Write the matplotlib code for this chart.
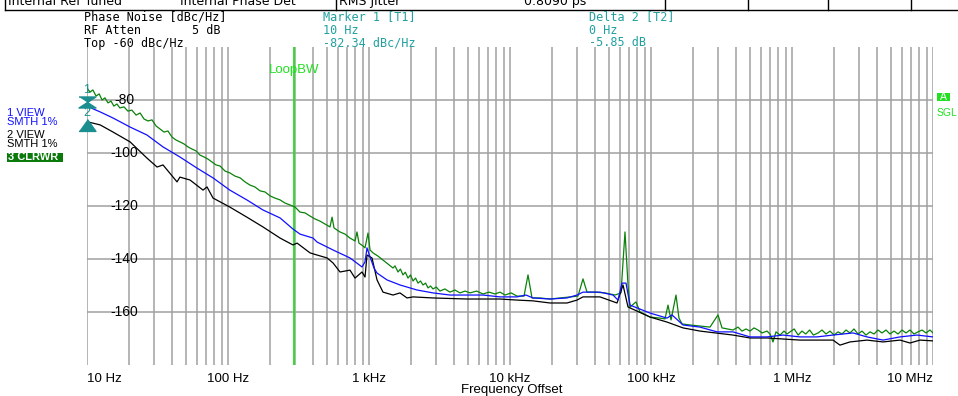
import matplotlib
matplotlib.use("Agg")
import matplotlib.pyplot as plt
from matplotlib.lines import Line2D
from matplotlib.patches import Rectangle
from matplotlib.ticker import LogLocator
from matplotlib.transforms import ScaledTranslation

# trace 3 (CLRWR, green)
green_freq = [10, 10.5, 11.0, 11.6, 12.2, 12.8, 13.4, 14.1, 14.8, 15.5, 16.3, 17.1, 18.3, 19.5,
              20.8, 22.3, 23.8, 25.4, 27.1, 28.9, 30.9, 32.9, 35.2, 37.5, 40.1, 42.8, 45.6, 48.8,
              52.0, 55.5, 59.3, 63.3, 67.6, 72.1, 77.0, 82.2, 87.8, 95.2, 103, 112, 122, 132, 143,
              155, 169, 183, 199, 215, 234, 254, 275, 299, 324, 352, 382, 414, 449, 487, 529, 547,
              565, 623, 676, 733, 796, 822, 849, 907, 937, 984, 1017, 1068, 1158, 1257, 1364, 1480,
              1529, 1606, 1670, 1742, 1810, 1891, 1970, 2052, 2140, 2226, 2320, 2415, 2520, 2621,
              2730, 2844, 3000, 3188, 3450, 3753, 4070, 4420, 4800, 5204, 5800, 6436, 7100, 7829,
              8500, 9216, 10200, 11210, 12570, 13420, 14320, 16320, 19220, 22620, 26640, 30360, 32940,
              35160, 40080, 47200, 55550, 61270, 65400, 68700, 70970, 78290, 83560, 98380, 115800,
              125700, 132000, 138700, 150400, 157900, 165900, 189100, 222600, 262100, 298700,
              318900, 381600, 414000, 441900, 471900, 503500, 537700, 574100, 612700, 664800,
              698200, 733300, 770000, 822000, 877700, 921600, 967800,
              1.036e6, 1.106e6, 1.176e6, 1.252e6, 1.333e6, 1.418e6, 1.531e6, 1.633e6, 1.742e6,
              1.860e6, 1.986e6, 2.120e6, 2.262e6, 2.415e6, 2.578e6, 2.752e6, 2.938e6, 3.137e6,
              3.348e6, 3.574e6, 3.815e6, 4.072e6, 4.347e6, 4.642e6, 4.955e6, 5.290e6, 5.647e6,
              6.029e6, 6.436e6, 6.868e6, 7.332e6, 7.828e6, 8.356e6, 8.920e6, 9.52e6, 1e7]
green_db = [-75.5, -77.0, -76.2, -78.5, -77.7, -80.0, -79.2, -81.1, -80.4, -82.3, -81.5, -83.0, -82.6, -84.2,
            -83.8, -85.7, -84.9, -87.2, -87.9, -87.5, -89.8, -90.9, -92.1, -91.7, -94.0, -95.1, -95.8, -96.6,
            -97.7, -98.5, -99.2, -100.8, -101.5, -102.3, -103.4, -104.5, -104.9, -106.8, -107.5, -108.7, -109.4, -110.9, -112.1,
            -112.8, -114.3, -114.7, -116.2, -117.0, -117.7, -118.9, -119.6, -120.4, -122.3, -122.6, -123.8, -124.9, -125.7, -126.8, -127.9, -124.2,
            -128.3, -129.8, -130.6, -132.1, -133.2, -129.8, -134.0, -135.1, -135.8, -130.2, -136.6, -137.7, -138.9, -140.4, -141.9, -143.4,
            -142.6, -144.9, -143.8, -146.0, -145.0, -147.2, -146.0, -148.3, -147.2, -149.1, -148.3, -149.8, -149.1, -150.9,
            -150.2, -151.3, -150.6, -152.1, -151.3, -152.5, -151.7, -152.8, -152.1, -152.8, -152.1, -153.2, -152.5, -153.2,
            -152.5, -153.6, -152.8, -154.0, -154.0, -146.0, -154.7, -154.7, -155.1, -154.7, -154.3, -154.0, -147.5,
            -152.5, -152.5, -152.8, -153.6, -152.8, -129.8, -149.8, -158.1, -156.2, -160.0, -161.9, -162.3,
            -162.6, -157.4, -163.0, -153.6, -162.3, -164.5, -164.9, -165.3, -165.7, -161.1,
            -166.0, -166.8, -165.7, -167.2, -166.4, -167.2, -166.0, -166.8, -167.9, -167.2,
            -168.3, -171.3, -167.5, -168.7, -167.2, -168.3, -167.5,
            -166.4, -168.7, -167.2, -168.3, -166.8, -168.7, -167.9, -166.8, -168.3,
            -167.2, -168.7, -167.5, -168.3, -166.8, -167.9, -166.4, -168.3, -167.2,
            -168.7, -167.5, -168.3, -166.8, -167.9, -166.8, -168.3, -167.2, -168.3,
            -166.8, -167.9, -166.8, -168.3, -167.5, -166.8, -167.9, -166.8, -167.9]

# trace 1 (VIEW, SMTH 1%, blue)
blue_freq = [10, 12.4, 15.3, 20.2, 26.6, 34.6, 45.6, 60.3, 78.3, 103, 136, 177, 234, 289, 324, 401,
             428, 556, 733, 892, 937, 968, 1017, 1085, 1140, 1342, 1659, 2190, 2844, 3753, 4955,
             6436, 8494, 11210, 12990, 14560, 19220, 25370, 29870, 32940, 43480, 53780, 58340,
             62270, 66480, 70970, 98380, 129900, 140900, 168700, 222600, 293900, 381600, 503500,
             664800, 863700, 1.139e6, 1.504e6, 1.953e6, 2.708e6, 3.403e6, 4.420e6, 5.834e6,
             7.700e6, 1e7]
blue_db = [-82.34, -84.5, -86.8, -90.2, -93.2, -97.7, -101.5, -105.7, -109.4, -114.0, -117.7, -121.5, -124.5, -128.7, -130.6, -132.1,
           -133.6, -136.6, -139.6, -143.0, -141.1, -135.8, -139.2, -143.4, -145.3, -147.9, -149.8, -151.7, -152.8, -153.6, -153.6,
           -153.6, -154.3, -154.3, -153.6, -154.7, -155.1, -154.7, -153.6, -152.5, -152.5, -153.6, -155.5,
           -149.1, -149.1, -157.4, -160.4, -162.3, -161.1, -164.9, -165.7, -167.5, -167.5, -169.4,
           -169.4, -168.7, -169.4, -169.4, -168.7, -167.9, -169.4, -170.6, -169.4,
           -168.7, -169.4]

# trace 2 (VIEW, SMTH 1%, black)
black_freq = [10, 12.4, 15.3, 20.2, 26.6, 31.4, 34.6, 43.5, 45.6, 53.8, 66.5, 71.0, 78.3, 103, 136,
              177, 234, 289, 309, 382, 428, 504, 556, 623, 733, 796, 892, 937, 968, 1050, 1140,
              1257, 1480, 1659, 1860, 2052, 2844, 4955, 8494, 11210, 14560, 19220, 25370, 29870,
              32940, 43480, 57410, 63310, 68700, 98380, 129900, 168700, 222600, 381600, 503500,
              664800, 1.139e6, 1.953e6, 2.189e6, 2.578e6, 3.403e6, 4.420e6, 5.834e6, 6.868e6,
              8.087e6, 1e7]
black_db = [-88.19, -89.4, -92.1, -95.8, -101.9, -105.3, -104.5, -110.9, -109.1, -110.2, -114.0, -112.8, -117.0, -120.4, -124.2,
            -127.9, -132.1, -134.7, -134.0, -137.7, -138.5, -139.6, -141.5, -144.9, -144.2, -147.2, -144.9, -146.8, -138.5, -139.6, -147.9,
            -152.5, -153.6, -152.8, -154.7, -154.3, -154.7, -155.1, -155.1, -155.5, -155.8, -156.6, -156.6, -155.5,
            -154.3, -154.3, -156.6, -149.8, -158.1, -161.9, -163.8, -166.0, -167.2, -168.7, -169.8,
            -169.8, -170.6, -170.6, -172.5, -171.3, -170.6, -171.3, -170.6, -171.7,
            -170.6, -170.9]

x_ticks = [10, 100, 1e3, 1e4, 1e5, 1e6, 1e7]
x_labels = ["10 Hz", "100 Hz", "1 kHz", "10 kHz", "100 kHz", "1 MHz", "10 MHz"]
y_ticks = [-160, -140, -120, -100, -80]
loop_bw = 295
marker1_freq = 10
marker1_level = -82.34
delta2_level = -5.85

TEAL = "#22a0a0"
TEAL_SYM = "#1b8f8f"
LIME = "#22e022"
GRID = "#a0a0a0"

W, H = 958, 396
def fx(p):
    return p / W
def fy(p):
    return 1 - p / H

plt.rcParams["font.family"] = ["Liberation Sans", "DejaVu Sans"]

fig = plt.figure(figsize=(W / 100, H / 100), dpi=100)
ax = fig.add_axes([fx(87), fy(365), 846 / W, 318 / H])

ax.plot(green_freq, green_db, color="#0a820a", lw=0.9, zorder=3)
ax.plot(black_freq, black_db, color="black", lw=0.9, zorder=4)
ax.plot(blue_freq, blue_db, color="#1010ff", lw=0.9, zorder=5)

ax.set_xscale("log")
ax.set_xlim(10, 1e7)
ax.set_ylim(-180, -60)
for s in ax.spines.values():
    s.set_visible(False)

ax.xaxis.set_minor_locator(LogLocator(base=10, subs=range(2, 10), numticks=20))
ax.set_xticks(x_ticks, labels=x_labels)
ax.set_yticks(y_ticks, labels=[""] * len(y_ticks))
ax.tick_params(which="both", length=0)
ax.tick_params(axis="x", pad=6, labelsize=9.5)
ax.grid(which="both", axis="x", color=GRID, lw=1.1, zorder=1)
ax.grid(which="major", axis="y", color=GRID, lw=1.1, zorder=1)
ax.set_axisbelow(True)
labels = ax.get_xticklabels()
labels[0].set_ha("left")
labels[-1].set_ha("right")

for v in y_ticks:
    ax.text(0.044, v, str(v), transform=ax.get_yaxis_transform(), ha="center", va="center",
            fontsize=10, zorder=2)

# loop bandwidth line
ax.axvline(loop_bw, color=LIME, lw=1.3, zorder=2)
ax.text(loop_bw, 0.928, "LoopBW", transform=ax.get_xaxis_transform(), color=LIME,
        ha="center", va="center", fontsize=9.5)

# markers
hourglass = [(-1, 0.65), (1, 0.65), (0, 0), (1, -0.65), (-1, -0.65), (0, 0)]
up_tri = [(0, 0.7), (1, -0.7), (-1, -0.7)]
m2_level = marker1_level + delta2_level
ax.plot([marker1_freq], [marker1_level], ls="none", marker=hourglass, ms=12.2, color=TEAL_SYM,
        transform=ax.transData + ScaledTranslation(0, 0.04, fig.dpi_scale_trans), clip_on=False, zorder=6)
ax.plot([marker1_freq], [m2_level], ls="none", marker=up_tri, ms=12.2, color=TEAL_SYM,
        transform=ax.transData + ScaledTranslation(0, -0.035, fig.dpi_scale_trans), clip_on=False, zorder=6)
ax.annotate("1", (marker1_freq, marker1_level), xytext=(0, 12), textcoords="offset points",
            ha="center", va="center", color=TEAL_SYM, fontsize=9, annotation_clip=False)
ax.annotate("2", (marker1_freq, m2_level), xytext=(0, 6), textcoords="offset points",
            ha="center", va="center", color=TEAL_SYM, fontsize=9, annotation_clip=False)

fig.text(fx(512), fy(390), "Frequency Offset", ha="center", va="center", fontsize=9.5)

# header block
hdr = dict(family="DejaVu Sans Mono", fontsize=8.5, va="center")
fig.text(fx(84), fy(17), "Phase Noise [dBc/Hz]", **hdr)
fig.text(fx(84), fy(30), "RF Atten", **hdr)
fig.text(fx(192), fy(30), "5 dB", **hdr)
fig.text(fx(84), fy(43), "Top -60 dBc/Hz", **hdr)
fig.text(fx(323), fy(17), "Marker 1 [T1]", color=TEAL, **hdr)
fig.text(fx(323), fy(30), "10 Hz", color=TEAL, **hdr)
fig.text(fx(323), fy(43), f"{marker1_level:.2f} dBc/Hz", color=TEAL, **hdr)
fig.text(fx(589), fy(17), "Delta 2 [T2]", color=TEAL, **hdr)
fig.text(fx(589), fy(30), "0 Hz", color=TEAL, **hdr)
fig.text(fx(589), fy(43), f"{delta2_level:.2f} dB", color=TEAL, **hdr)

# status table at the very top (cut by the figure edge, as on the screen grab)
top = dict(family="DejaVu Sans", fontsize=9, va="center")
fig.text(fx(8), fy(1.5), "Internal Ref Tuned", **top)
fig.text(fx(180), fy(1.5), "Internal Phase Det", **top)
fig.text(fx(339), fy(1.5), "RMS Jitter", **top)
fig.text(fx(524), fy(1.5), "0.8090 ps", **top)
fig.add_artist(Line2D([fx(5), fx(958)], [fy(9.5), fy(9.5)], color="black", lw=1))
for xp in [5, 336, 665, 748, 828, 911]:
    fig.add_artist(Line2D([fx(xp), fx(xp)], [fy(0), fy(9.5)], color="black", lw=1))

# trace info on the left
side = dict(fontsize=8, va="center")
fig.text(fx(7), fy(113), "1 VIEW", color="#1010ff", **side)
fig.text(fx(7), fy(122), "SMTH 1%", color="#1010ff", **side)
fig.text(fx(7), fy(135), "2 VIEW", color="black", **side)
fig.text(fx(7), fy(144), "SMTH 1%", color="black", **side)
fig.add_artist(Rectangle((fx(7), fy(162)), 56 / W, 9 / H, color="#0a7a0a", lw=0))
fig.text(fx(8), fy(157.5), "3 CLRWR", color="white", fontweight="bold", **side)

# right side status
fig.add_artist(Rectangle((fx(937), fy(101)), 13 / W, 8 / H, color="#22e022", lw=0))
fig.text(fx(943.5), fy(97), "A", color="white", ha="center", fontsize=7.5, va="center")
fig.text(fx(937), fy(113), "SGL", color=LIME, fontsize=7.5, va="center")

fig.savefig("out.png", dpi=100)
